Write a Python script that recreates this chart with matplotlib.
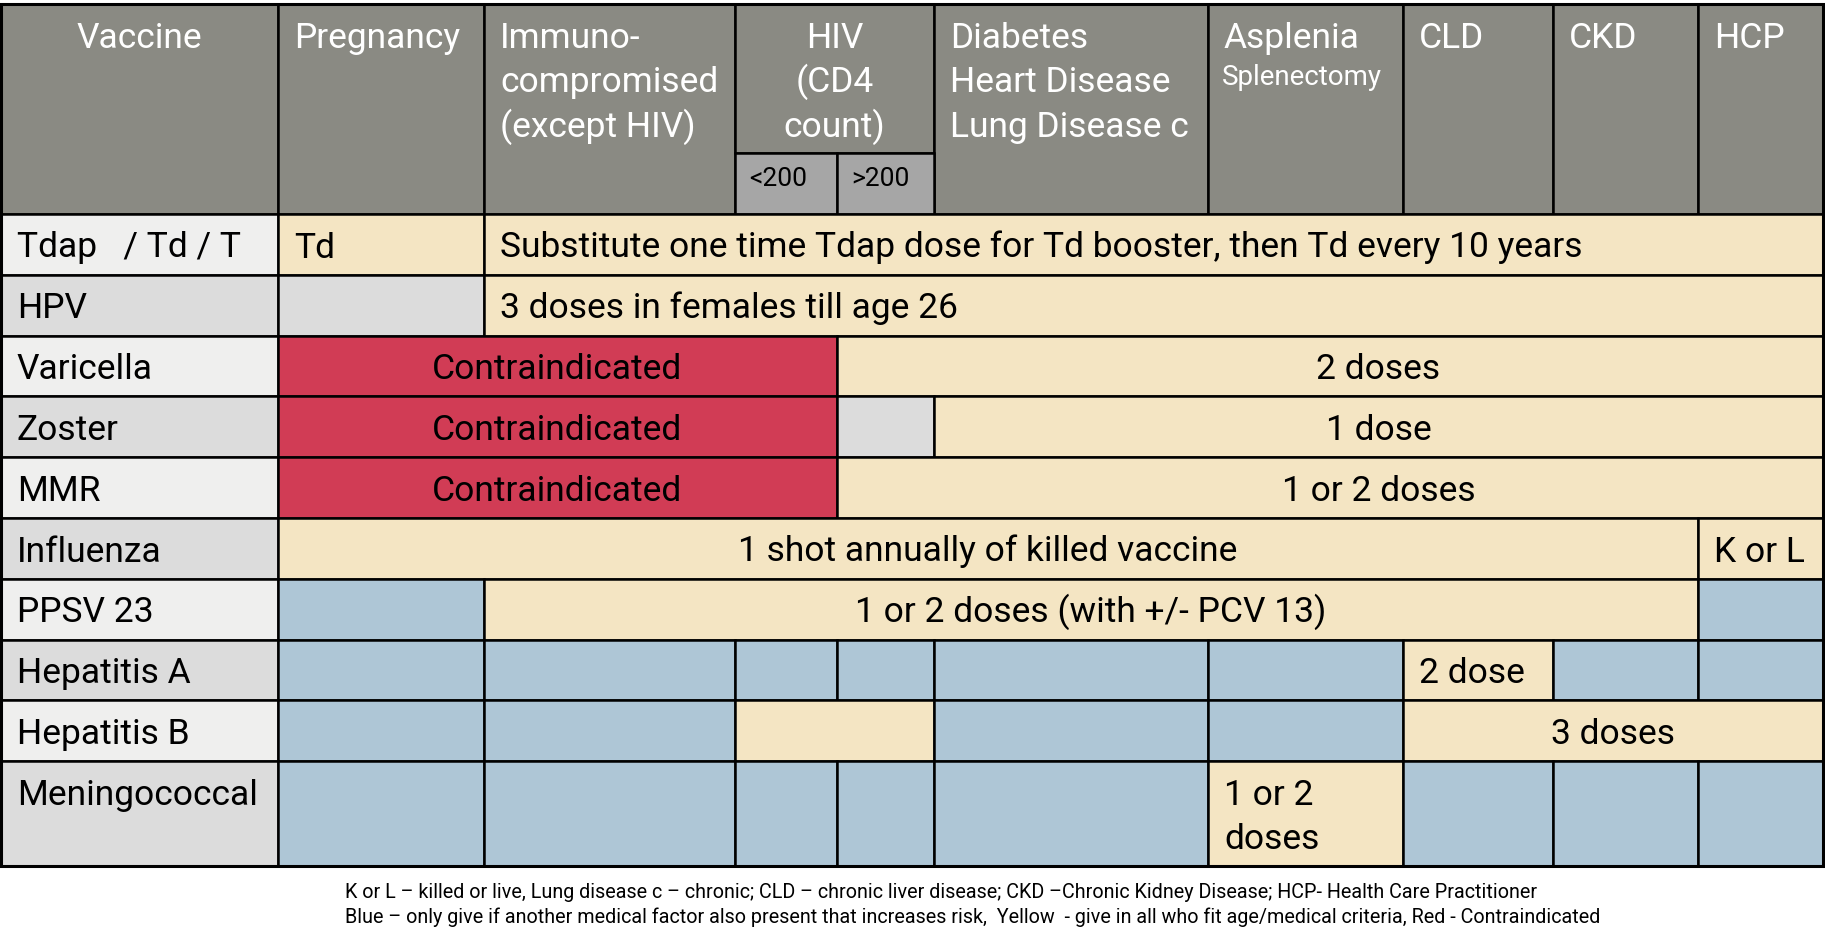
import matplotlib.pyplot as plt
from matplotlib.patches import Rectangle

plt.rcParams['font.family'] = ['Roboto', 'DejaVu Sans']

# ---- data ----
header_cols = ['Vaccine', 'Pregnancy', 'Immuno-\ncompromised\n(except HIV)', 'HIV\n(CD4\ncount)',
               'Diabetes\nHeart Disease\nLung Disease c', 'Asplenia', 'CLD', 'CKD', 'HCP']
hiv_sub = ['<200', '>200']
vaccines = ['Tdap   / Td / T', 'HPV', 'Varicella', 'Zoster', 'MMR', 'Influenza',
            'PPSV 23', 'Hepatitis A', 'Hepatitis B', 'Meningococcal']

# cells: (first column, last column + 1, colour key)
# columns: 1 Pregnancy, 2 Immuno, 3 HIV<200, 4 HIV>200, 5 Diabetes, 6 Asplenia, 7 CLD, 8 CKD, 9 HCP
row_cells = [
    [(1, 2, 'Y'), (2, 10, 'Y')],
    [(1, 2, 'G'), (2, 10, 'Y')],
    [(1, 4, 'R'), (4, 10, 'Y')],
    [(1, 4, 'R'), (4, 5, 'G'), (5, 10, 'Y')],
    [(1, 4, 'R'), (4, 10, 'Y')],
    [(1, 9, 'Y'), (9, 10, 'Y')],
    [(1, 2, 'B'), (2, 9, 'Y'), (9, 10, 'B')],
    [(1, 2, 'B'), (2, 3, 'B'), (3, 4, 'B'), (4, 5, 'B'), (5, 6, 'B'), (6, 7, 'B'),
     (7, 8, 'Y'), (8, 9, 'B'), (9, 10, 'B')],
    [(1, 2, 'B'), (2, 3, 'B'), (3, 5, 'Y'), (5, 6, 'B'), (6, 7, 'B'), (7, 10, 'Y')],
    [(1, 2, 'B'), (2, 3, 'B'), (3, 4, 'B'), (4, 5, 'B'), (5, 6, 'B'), (6, 7, 'Y'),
     (7, 8, 'B'), (8, 9, 'B'), (9, 10, 'B')],
]

# texts: (row, first column, last column + 1, text, alignment)
cell_texts = [
    (0, 1, 2, 'Td', 'left'),
    (0, 2, 10, 'Substitute one time Tdap dose for Td booster, then Td every 10 years', 'left'),
    (1, 2, 10, '3 doses in females till age 26', 'left'),
    (2, 1, 4, 'Contraindicated', 'center'),
    (2, 5, 10, '2 doses', 'center'),
    (3, 1, 4, 'Contraindicated', 'center'),
    (3, 5, 10, '1 dose', 'center'),
    (4, 1, 4, 'Contraindicated', 'center'),
    (4, 5, 10, '1 or 2 doses', 'center'),
    (5, 1, 9, '1 shot annually of killed vaccine', 'center'),
    (5, 9, 10, 'K or L', 'left'),
    (6, 2, 9, '1 or 2 doses (with +/- PCV 13)', 'center'),
    (7, 7, 8, '2 dose', 'left'),
    (8, 7, 10, '3 doses', 'center'),
    (9, 6, 7, '1 or 2\ndoses', 'left'),
]

footnotes = ['K or L \u2013 killed or live, Lung disease c \u2013 chronic; CLD \u2013 chronic liver disease; '
             'CKD \u2013Chronic Kidney Disease; HCP- Health Care Practitioner',
             'Blue \u2013 only give if another medical factor also present that increases risk,  '
             'Yellow  - give in all who fit age/medical criteria, Red - Contraindicated']

# ---- layout ----
colors = {'Y': '#f4e5c3', 'R': '#d13c55', 'B': '#aec6d6', 'G': '#dcdcdc'}
header_gray = '#8a8a83'
sub_gray = '#a6a6a6'
label_bg = ['#efefee', '#dcdcdc']
x_edges = [1, 278, 484, 735, 837, 934, 1208, 1403, 1553, 1698, 1823]
head_top, sub_top, head_bot = 4, 153, 214
row_h = 60.8
y_rows = [head_bot + i * row_h for i in range(10)] + [866]
lw = 1.8
fs_body = 25.5
fs_head = 25.5
pad = 16
line_gap = 44.8

fig = plt.figure(figsize=(18.25, 9.41), dpi=100)
ax = fig.add_axes([0, 0, 1, 1])
ax.set_xlim(0, 1825)
ax.set_ylim(941, 0)
ax.axis('off')


def cell(x0, x1, y0, y1, fc):
    ax.add_patch(Rectangle((x0, y0), x1 - x0, y1 - y0, facecolor=fc, edgecolor='black', lw=lw))


# header
head_spans = [(0, 1), (1, 2), (2, 3), (3, 5), (5, 6), (6, 7), (7, 8), (8, 9), (9, 10)]
for (c0, c1), name in zip(head_spans, header_cols):
    x0, x1 = x_edges[c0], x_edges[c1]
    y1 = sub_top if c1 - c0 == 2 else head_bot
    cell(x0, x1, head_top, y1, header_gray)
    centered = name in ('Vaccine',) or name.startswith('HIV')
    for i, line in enumerate(name.split('\n')):
        ax.text((x0 + x1) / 2 if centered else x0 + pad, 47.5 + i * line_gap, line,
                color='white', fontsize=fs_head, ha='center' if centered else 'left', va='baseline')
ax.text(x_edges[6] + pad - 2, 84.5, 'Splenectomy', color='white', fontsize=20, va='baseline')
for k, s in enumerate(hiv_sub):
    x0, x1 = x_edges[3 + k], x_edges[4 + k]
    cell(x0, x1, sub_top, head_bot, sub_gray)
    ax.text(x0 + 14, (sub_top + head_bot) / 2 + 2, s, fontsize=19, va='baseline')

# body
for r, name in enumerate(vaccines):
    y0, y1 = y_rows[r], y_rows[r + 1]
    cell(x_edges[0], x_edges[1], y0, y1, label_bg[r % 2])
    ax.text(x_edges[0] + pad, y0 + 43.5, name, fontsize=fs_body, va='baseline')
    for c0, c1, key in row_cells[r]:
        cell(x_edges[c0], x_edges[c1], y0, y1, colors[key])

for r, c0, c1, txt, ha in cell_texts:
    y0 = y_rows[r]
    x = x_edges[c0] + pad if ha == 'left' else (x_edges[c0] + x_edges[c1]) / 2
    for i, line in enumerate(txt.split('\n')):
        ax.text(x, y0 + 43.5 + i * line_gap, line, fontsize=fs_body, ha=ha, va='baseline')

# outer border
ax.add_patch(Rectangle((x_edges[0], head_top), x_edges[-1] - x_edges[0], y_rows[-1] - head_top,
                       facecolor='none', edgecolor='black', lw=2.2))

for i, line in enumerate(footnotes):
    ax.text(345, 897.5 + i * 25.5, line, fontsize=14.25, va='baseline')

fig.savefig('out.png', dpi=100)
